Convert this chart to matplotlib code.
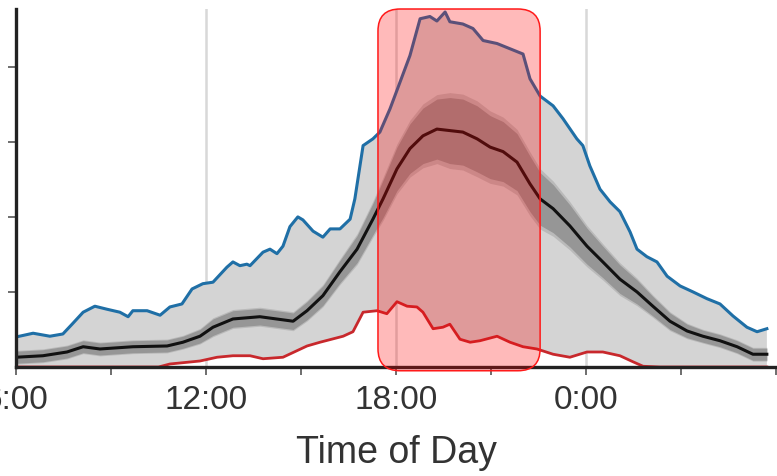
import matplotlib
matplotlib.use("Agg")
import matplotlib.pyplot as plt
from matplotlib.patches import FancyBboxPatch
import numpy as np

plt.rcParams['font.family'] = ['Liberation Sans', 'DejaVu Sans']

# ── Data (hours of day, 24+ = after midnight) ────────────────────────────────
upper_h = [6.00, 6.54, 7.07, 7.48, 7.77, 8.12, 8.49, 8.87, 9.28, 9.54, 9.69, 10.14,
           10.55, 10.86, 11.24, 11.56, 11.90, 12.22, 12.66, 12.85, 13.07, 13.29,
           13.39, 13.80, 14.02, 14.24, 14.43, 14.65, 14.90, 15.06, 15.38, 15.69,
           15.92, 16.23, 16.55, 16.70, 16.96, 17.27, 17.49, 17.81, 18.13, 18.44,
           18.76, 19.07, 19.29, 19.55, 19.70, 20.11, 20.43, 20.75, 21.19, 21.60,
           22.01, 22.23, 22.55, 22.96, 23.27, 23.71, 23.90, 24.12, 24.44, 24.76,
           25.07, 25.39, 25.61, 25.92, 26.24, 26.56, 26.97, 27.38, 27.82, 28.23,
           28.64, 29.08, 29.40, 29.71]
upper_v = [0.40, 0.45, 0.41, 0.44, 0.57, 0.73, 0.81, 0.77, 0.73, 0.67, 0.75, 0.75,
           0.69, 0.80, 0.84, 1.04, 1.11, 1.13, 1.33, 1.40, 1.35, 1.37,
           1.35, 1.53, 1.57, 1.51, 1.61, 1.87, 2.00, 1.96, 1.81, 1.73,
           1.84, 1.84, 1.97, 2.24, 2.95, 3.04, 3.13, 3.44, 3.80, 4.15,
           4.64, 4.67, 4.61, 4.73, 4.60, 4.57, 4.51, 4.35, 4.31, 4.24,
           4.17, 3.84, 3.61, 3.48, 3.31, 3.04, 2.95, 2.68, 2.37, 2.20,
           2.07, 1.80, 1.57, 1.47, 1.40, 1.21, 1.08, 1.00, 0.91, 0.84,
           0.68, 0.53, 0.47, 0.51]

mean_h = [6.00, 6.85, 7.61, 8.12, 8.65, 9.69, 10.77, 11.27, 11.81, 12.22, 12.85,
          13.70, 14.75, 15.19, 15.69, 16.23, 16.77, 17.27, 17.59, 18.03, 18.44,
          18.85, 19.29, 19.70, 20.11, 20.56, 20.97, 21.38, 21.82, 22.23, 22.55,
          22.96, 23.49, 24.03, 24.53, 25.07, 25.61, 26.11, 26.65, 27.19, 27.69,
          28.23, 28.77, 29.27, 29.71]
mean_v = [0.13, 0.15, 0.20, 0.27, 0.24, 0.27, 0.28, 0.33, 0.41, 0.53, 0.64,
          0.67, 0.61, 0.75, 0.95, 1.27, 1.57, 1.97, 2.24, 2.64, 2.91,
          3.08, 3.17, 3.15, 3.13, 3.04, 2.93, 2.87, 2.73, 2.44, 2.24,
          2.11, 1.88, 1.61, 1.40, 1.17, 1.00, 0.81, 0.61, 0.48, 0.41,
          0.35, 0.27, 0.17, 0.17]
mean_err = [0.08, 0.08, 0.08, 0.08, 0.08, 0.08, 0.08, 0.08, 0.09, 0.11, 0.11,
            0.11, 0.11, 0.12, 0.13, 0.15, 0.18, 0.21, 0.25, 0.29, 0.33,
            0.37, 0.40, 0.44, 0.44, 0.44, 0.42, 0.40, 0.38, 0.37, 0.35,
            0.32, 0.28, 0.24, 0.21, 0.19, 0.16, 0.13, 0.11, 0.09, 0.08,
            0.08, 0.08, 0.08, 0.08]

lower_h = [6.00, 10.50, 10.86, 11.81, 12.35, 12.85, 13.39, 13.80, 14.43, 15.19,
           15.60, 16.33, 16.64, 16.96, 17.40, 17.71, 18.03, 18.35, 18.66, 18.85,
           19.17, 19.48, 19.70, 20.02, 20.34, 20.65, 21.19, 21.60, 22.01, 22.45,
           22.96, 23.49, 24.03, 24.53, 25.07, 25.48, 25.80, 26.33, 29.71]
lower_v = [0.00, 0.00, 0.04, 0.08, 0.13, 0.15, 0.15, 0.11, 0.13, 0.28,
           0.33, 0.41, 0.47, 0.73, 0.75, 0.71, 0.87, 0.81, 0.80, 0.73,
           0.51, 0.53, 0.57, 0.37, 0.33, 0.35, 0.41, 0.33, 0.27, 0.24,
           0.17, 0.13, 0.20, 0.20, 0.15, 0.07, 0.01, 0.00, 0.00]

tick_hours = [6, 9, 12, 15, 18, 21, 24, 27, 30]
tick_labels = ["6:00", "", "12:00", "", "18:00", "", "0:00", "", ""]
grid_hours = [12, 18, 24]
highlight = (17.43, 22.55)  # evening peak window

BLUE = "#1f6fa6"
RED = "#c8282c"
GRAY = "#d4d4d4"
BAND = "#8a8a8a"

fig = plt.figure(figsize=(7.77, 4.77), dpi=100)
ax = fig.add_axes([16 / 777, 109 / 477, 761 / 777, 358 / 477])

# grid
for g in grid_hours:
    ax.axvline(g, color="#d8d8d8", lw=1.8, zorder=0)

# range between min and max
uh, uv = np.array(upper_h), np.array(upper_v)
lh, lv = np.array(lower_h), np.array(lower_v)
ax.fill(np.concatenate([uh, lh[::-1]]), np.concatenate([uv, lv[::-1]]),
        color=GRAY, lw=0, zorder=1)

# band around the mean (soft edges)
mh, mv, me = np.array(mean_h), np.array(mean_v), np.array(mean_err)
ax.fill_between(mh, mv - me * 1.15, mv + me * 1.15, color=BAND, alpha=0.35, lw=0, zorder=2)
ax.fill_between(mh, mv - me, mv + me, color=BAND, alpha=0.75, lw=0, zorder=2)

ax.plot(uh, uv, color=BLUE, lw=2.2, zorder=3)
ax.plot(lh, lv, color=RED, lw=2.0, zorder=3)
ax.plot(mh, mv, color="#111111", lw=2.2, zorder=4)

ax.set_xlim(6, 30.03)
ax.set_ylim(0, 4.77)

# highlight window
box = FancyBboxPatch((highlight[0], -0.05), highlight[1] - highlight[0], 4.82,
                     boxstyle="round,pad=0,rounding_size=0.7",
                     mutation_aspect=0.42,
                     facecolor=(1, 0, 0, 0.27), edgecolor="#ff1a1a", lw=1.1,
                     zorder=6, clip_on=False)
ax.add_patch(box)

# axes styling
for side in ["top", "right"]:
    ax.spines[side].set_visible(False)
for side in ["left", "bottom"]:
    ax.spines[side].set_linewidth(2.4)
    ax.spines[side].set_color("#222222")
    ax.spines[side].set_zorder(5)

ax.set_xticks(tick_hours)
ax.set_xticklabels(tick_labels)
ax.set_yticks([1, 2, 3, 4])
ax.set_yticklabels([])
ax.tick_params(axis="both", direction="out", length=6, width=1.2, colors="#555555")
ax.tick_params(axis="x", labelsize=24, labelcolor="#333333", pad=6)
ax.set_xlabel("Time of Day", fontsize=27, color="#333333", labelpad=14)

fig.savefig("out.png", dpi=100)
